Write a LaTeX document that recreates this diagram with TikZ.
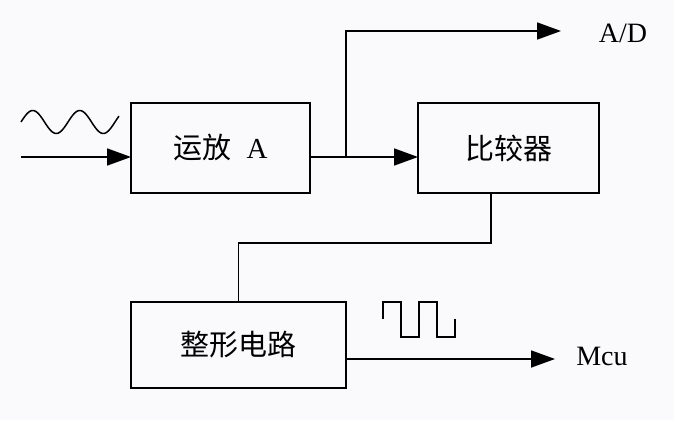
\documentclass[tikz,border=0pt]{standalone}
\usepackage{fontspec}
\setmainfont{Liberation Serif}
\newfontfamily\cjk{Noto Sans CJK SC}
\usetikzlibrary{arrows.meta}
\definecolor{bgc}{RGB}{250,250,252}
\begin{document}
\begin{tikzpicture}[x=1pt,y=-1pt,line width=1.8pt,
  box/.style={draw,line width=1.8pt,inner sep=0pt,outer sep=0pt,font=\cjk\fontsize{29}{32}\selectfont},
  lbl/.style={font=\fontsize{28}{30}\selectfont,inner sep=0pt},
  arr/.style={-{Triangle[length=24pt,width=17pt]}},
  wave/.style={line width=1.5pt}]
\fill[bgc] (0,0) rectangle (674,420);
\useasboundingbox (0,0) rectangle (674,420);
\node[box,minimum width=179pt,minimum height=90pt] (b1) at (220.5,148) {运放\hspace{15pt}{\rmfamily A}};
\node[box,minimum width=181pt,minimum height=90pt] (b2) at (508.5,148) {比较器};
\node[box,minimum width=215pt,minimum height=86pt] (b3) at (238.5,345) {整形电路};
\coordinate (in) at (21,157);
\coordinate (br) at (346,157);
\coordinate (ad) at (561,31);
\coordinate (c1) at (491,243);
\coordinate (mcu) at (555,359);
\node[lbl] (tad) at (623,33) {A/D};
\node[lbl] (tmcu) at (602,356) {Mcu};
\draw[arr] (in) -- (in -| b1.west);
\draw[arr] (in -| b1.east) -- (in -| b2.west);
\draw[arr] (br) |- (ad);
\draw (b2.south -| c1) -- (c1) -| (b3.north);
\draw[arr] (mcu -| b3.east) -- (mcu);
\draw[wave] plot[domain=21:119,samples=80,smooth] (\x,{122-11.5*sin((\x-21)/47*360)});
\draw[wave] (383,319) -- (383,302) -- (401,302) -- (401,337) -- (419,337) -- (419,302) -- (437,302) -- (437,337) -- (455,337) -- (455,319);
\end{tikzpicture}
\end{document}
